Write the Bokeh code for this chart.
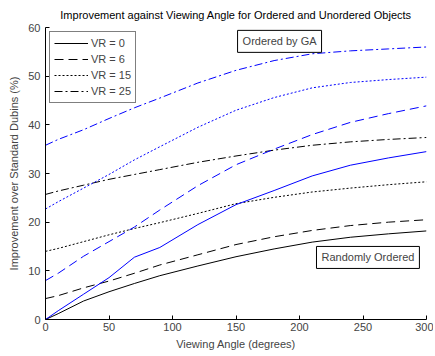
from bokeh.plotting import figure
from bokeh.models import Range1d, Legend, LegendItem, Label, FixedTicker
from bokeh.embed import file_html
from bokeh.resources import INLINE

FONT = "Liberation Sans"

angles = [0, 10, 30, 50, 70, 90, 120, 150, 180, 210, 240, 270, 300]

# Randomly ordered (black)
rand_vr0 = [0, 1.2, 3.8, 5.7, 7.4, 9.0, 11.0, 12.9, 14.5, 15.9, 16.9, 17.6, 18.2]
rand_vr6 = [4.3, 4.9, 6.5, 7.9, 9.5, 11.2, 13.3, 15.4, 17.0, 18.3, 19.3, 20.0, 20.5]
rand_vr15 = [14.0, 14.6, 16.0, 17.4, 18.7, 19.9, 21.8, 23.8, 25.1, 26.2, 27.0, 27.7, 28.3]
rand_vr25 = [25.7, 26.4, 27.6, 28.8, 29.8, 30.8, 32.3, 33.6, 34.8, 35.8, 36.5, 37.0, 37.4]

# Ordered by GA (blue)
ga_vr0 = [0, 1.8, 5.2, 8.6, 12.8, 14.8, 19.5, 23.6, 26.5, 29.5, 31.7, 33.2, 34.5]
ga_vr6 = [8.0, 9.5, 13.0, 16.0, 19.0, 22.5, 27.5, 31.8, 35.0, 38.0, 40.5, 42.3, 43.9]
ga_vr15 = [22.7, 24.2, 27.0, 29.8, 32.8, 35.5, 39.5, 43.0, 45.6, 47.6, 48.7, 49.3, 49.8]
ga_vr25 = [35.8, 37.0, 39.0, 41.3, 43.5, 45.5, 48.6, 51.2, 53.2, 54.6, 55.2, 55.6, 56.0]

legend_labels = ["VR = 0", "VR = 6", "VR = 15", "VR = 25"]
dashes = ["solid", "9 5", "2 2", "8 3 2 3"]

x_ticks = [0, 50, 100, 150, 200, 250, 300]
y_ticks = [0, 10, 20, 30, 40, 50, 60]

p = figure(width=433, height=352,
           x_range=Range1d(0, 300), y_range=Range1d(0, 60),
           output_backend="svg", toolbar_location=None,
           min_border_left=45, min_border_right=7, min_border_top=26, min_border_bottom=31,
           title="Improvement against Viewing Angle for Ordered and Unordered Objects")

p.title.text_font = FONT
p.title.text_font_size = "11px"
p.title.text_font_style = "normal"
p.title.align = "center"
p.title.standoff = 13
p.title.text_color = "#000000"

p.outline_line_color = None
p.xgrid.grid_line_color = None
p.ygrid.grid_line_color = None
p.background_fill_color = "white"

for ax, ticks in ((p.xaxis[0], x_ticks), (p.yaxis[0], y_ticks)):
    ax.ticker = FixedTicker(ticks=ticks)
    ax.major_tick_in = 4
    ax.major_tick_out = 0
    ax.minor_tick_in = 0
    ax.minor_tick_out = 0
    ax.major_label_text_font = FONT
    ax.major_label_text_font_size = "11px"
    ax.axis_label_text_font = FONT
    ax.axis_label_text_font_size = "11px"
    ax.axis_label_text_font_style = "normal"
    ax.axis_line_color = "black"
    ax.major_tick_line_color = "black"

p.xaxis.axis_label = "Viewing Angle (degrees)"
p.yaxis.axis_label = "Improvement over Standard Dubins (%)"
p.xaxis.major_label_standoff = 3
p.xaxis.axis_label_standoff = 4
p.yaxis.major_label_standoff = 5
p.yaxis.axis_label_standoff = 5

rand_series = [rand_vr0, rand_vr6, rand_vr15, rand_vr25]
ga_series = [ga_vr0, ga_vr6, ga_vr15, ga_vr25]

items = []
for vals, dash, lab in zip(rand_series, dashes, legend_labels):
    r = p.line(angles, vals, line_color="#000000", line_width=1, line_dash=dash)
    items.append(LegendItem(label=lab, renderers=[r]))
for vals, dash in zip(ga_series, dashes):
    p.line(angles, vals, line_color="#0000FF", line_width=1, line_dash=dash)

legend = Legend(items=items, location="top_left")
legend.margin = 4
legend.padding = 4
legend.spacing = 2
legend.glyph_width = 34
legend.glyph_height = 14
legend.label_height = 14
legend.label_standoff = 3
legend.label_text_font = FONT
legend.label_text_font_size = "11px"
legend.border_line_color = "black"
legend.border_line_width = 1
legend.background_fill_color = "white"
legend.background_fill_alpha = 1
p.add_layout(legend, "center")

lab1 = Label(x=184.3, y=57.15, text="Ordered by GA", text_align="center", text_baseline="middle",
             text_font=FONT, text_font_size="11px", padding=5,
             border_line_color="black", border_line_width=1, background_fill_color="white")
lab2 = Label(x=253.9, y=12.75, text="Randomly Ordered", text_align="center", text_baseline="middle",
             text_font=FONT, text_font_size="11px", padding=5,
             border_line_color="black", border_line_width=1, background_fill_color="white")
p.add_layout(lab1)
p.add_layout(lab2)

open("out.html", "w").write(file_html(p, INLINE))
